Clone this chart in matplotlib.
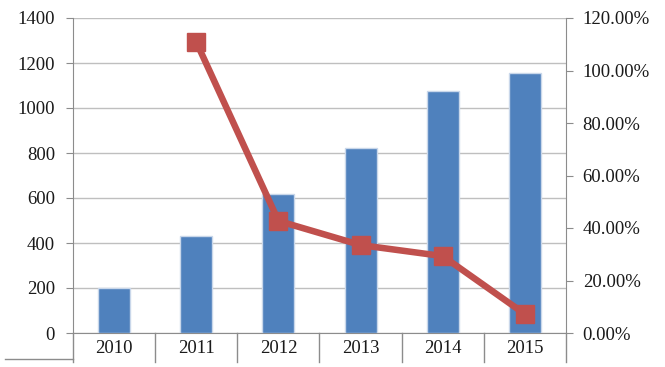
import matplotlib
matplotlib.use("Agg")
import matplotlib.pyplot as plt
from matplotlib.lines import Line2D
import matplotlib.transforms as mtransforms
from matplotlib.ticker import FuncFormatter

years = ["2010", "2011", "2012", "2013", "2014", "2015"]
bar_values = [200, 431, 618, 822, 1075, 1155]
growth_years = ["2011", "2012", "2013", "2014", "2015"]
growth_pct = [110.9, 42.7, 33.5, 29.3, 7.2]

plt.rcParams['font.family'] = ['Liberation Serif', 'DejaVu Serif']

fig = plt.figure(figsize=(6.65, 3.67), dpi=100)
ax = fig.add_axes([73/665, 34/367, 493/665, 315/367])
ax2 = ax.twinx()

x = list(range(len(years)))
ax.bar(x, bar_values, width=0.39, color='#4F81BD', edgecolor='#C9D7EA', linewidth=1.0, zorder=3)
ax.set_xlim(-0.5, len(years) - 0.5)
ax.set_ylim(0, 1400)
ax.set_yticks(range(0, 1401, 200))
ax.set_xticks(x)
ax.set_xticklabels(years)
ax.yaxis.grid(True, color='#BFBFBF', linewidth=1.0, zorder=0)
ax.set_axisbelow(True)

gx = [years.index(y) for y in growth_years]
ax2.plot(gx, growth_pct, color='#C0504D', linewidth=4.7, marker='s', markersize=13,
         markerfacecolor='#C0504D', markeredgecolor='#C0504D', zorder=5)
ax2.set_ylim(0, 120)
ax2.set_yticks(range(0, 121, 20))
ax2.yaxis.set_major_formatter(FuncFormatter(lambda v, p: f"{v:.2f}%"))

spine_col = '#8C8C8C'
for a in (ax, ax2):
    a.spines['top'].set_visible(False)
    a.spines['left'].set_color(spine_col)
    a.spines['right'].set_color(spine_col)
    a.spines['bottom'].set_color(spine_col)
ax2.spines['left'].set_visible(False)
ax2.spines['bottom'].set_visible(False)
ax.spines['right'].set_visible(False)

ax.tick_params(axis='y', direction='out', length=5, color=spine_col, labelsize=13.5, pad=8, labelcolor='#1A1A1A')
ax.tick_params(axis='x', length=0, labelsize=13.5, pad=5, labelcolor='#1A1A1A')
ax2.tick_params(axis='y', direction='out', length=5, color=spine_col, labelsize=13.5, pad=7, labelcolor='#1A1A1A')

# category separators extending below the axis
trans = mtransforms.blended_transform_factory(ax.transData, ax.transAxes)
for b in [i - 0.5 for i in range(len(years) + 1)]:
    ax.add_line(Line2D([b, b], [0, -0.092], transform=trans, color=spine_col,
                       linewidth=1.0, clip_on=False))

# small frame line at bottom left
fig.add_artist(Line2D([5/665, 73/665], [8/367, 8/367], transform=fig.transFigure,
                      color=spine_col, linewidth=1.0))

fig.savefig("out.png", dpi=100, facecolor='white')
